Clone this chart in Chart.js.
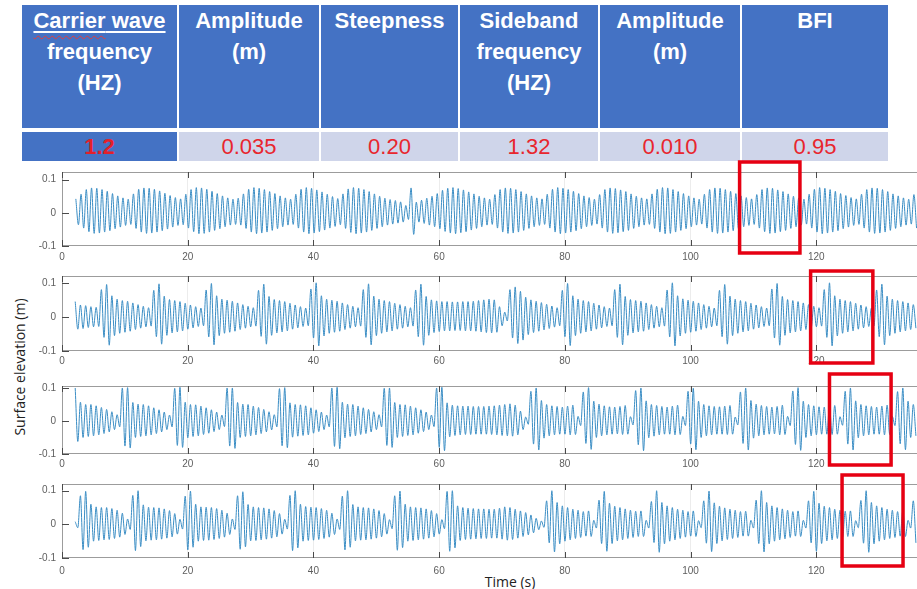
<!DOCTYPE html>
<html>
<head>
<meta charset="utf-8">
<script src="https://cdn.jsdelivr.net/npm/chart.js@4.4.0/dist/chart.umd.min.js"></script>
<style>
  html, body { margin: 0; padding: 0; width: 917px; height: 589px; overflow: hidden; background: #fff; }
  #params { position: absolute; left: 20px; top: 1px; border-collapse: separate; border-spacing: 2px 4px; table-layout: fixed; font-family: "Liberation Sans", Arial, sans-serif; }
  #params td { padding: 0; text-align: center; }
  #params .head td { background: #4472C4; color: #fff; font-weight: bold; font-size: 22px; line-height: 31px; height: 123px; vertical-align: top; }
  #params .vals td { background: #CFD5EA; color: #e8262e; font-size: 22px; height: 29px; line-height: 29px; vertical-align: middle; }
  #params .vals td.first { background: #4472C4; font-weight: bold; color: #e3202a; }
  .ul { text-decoration: underline #fff 1.5px; text-underline-offset: 3px; }
  .sq { text-decoration: underline wavy #e23c3c 1px; text-underline-offset: 7px; }
  .axis-title { position: absolute; font-family: "Open Sans", sans-serif; font-size: 14px; color: #222; white-space: nowrap; }
  canvas { position: absolute; left: 0; }
</style>
</head>
<body>
<table id="params">
  <colgroup>
    <col style="width:155px"><col style="width:140px"><col style="width:137px">
    <col style="width:138px"><col style="width:140px"><col style="width:146px">
  </colgroup>
  <tr class="head">
    <td><span class="ul"><span class="sq">Carrier</span> wave</span><br>frequency<br>(HZ)</td>
    <td>Amplitude<br>(m)</td>
    <td>Steepness</td>
    <td>Sideband<br>frequency<br>(HZ)</td>
    <td>Amplitude<br>(m)</td>
    <td>BFI</td>
  </tr>
  <tr class="vals">
    <td class="first">1.2</td>
    <td>0.035</td>
    <td>0.20</td>
    <td>1.32</td>
    <td>0.010</td>
    <td>0.95</td>
  </tr>
</table>
<div class="axis-title" style="left:19px; top:367px; transform: translate(-50%, -50%) rotate(-90deg);">Surface elevation (m)</div>
<div class="axis-title" style="left:510px; top:581px; transform: translate(-50%, -50%);">Time (s)</div>

<script>
// carrier wave frequency from the table, one crest + one trough per carrier period
const carrierFreq = 1.2;
const wavePeriod = 1 / carrierFreq;

// time of the first crest in each panel (s)
const startTimes = [2.2, 2.1, 2.1, 2.1];

// crest and trough elevations of each wave, in mm
const crest1 = [
  42, 56, 70, 75, 74, 70, 65, 58, 51, 45,
  41, 57, 71, 75, 74, 71, 66, 59, 52, 46,
  42, 56, 70, 76, 75, 71, 65, 58, 51, 45,
  41, 44, 57, 71, 76, 74, 70, 64, 58, 51, 45,
  41, 56, 71, 76, 74, 69, 63, 56, 49,
  43, 57, 72, 76, 74, 70, 64, 57, 50, 44, 40, 37, 33, 22, 75, 32, 38, 44, 50,
  58, 68, 74, 76, 73, 69, 63, 57, 50, 45,
  41, 55, 70, 75, 74, 70, 64, 57, 51, 45,
  42, 56, 71, 76, 74, 70, 65, 58, 51, 46,
  41, 55, 70, 75, 73, 69, 64, 57, 50, 45,
  42, 57, 71, 76, 75, 70, 64, 58, 51, 45,
  41, 56, 70, 75, 74, 70, 65, 58, 51, 46,
  42, 55, 70, 75, 74, 69, 64, 57, 50, 45,
  41, 56, 71, 76, 74, 70, 65, 58, 52, 46,
  42, 56, 70, 75, 74, 70, 64, 57, 51, 45,
  41, 55
];
const trough1 = [
  -36, -46, -57, -62, -61, -58, -54, -48, -43, -38,
  -35, -47, -58, -62, -61, -58, -54, -49, -43, -38,
  -36, -46, -57, -63, -62, -58, -53, -48, -42, -37,
  -35, -37, -47, -58, -63, -61, -58, -53, -48, -42, -37,
  -35, -46, -58, -63, -61, -57, -52, -46, -41,
  -36, -47, -59, -63, -61, -58, -53, -47, -42, -37, -34, -31, -28, -20, -65, -28, -32, -37, -42,
  -48, -56, -61, -63, -60, -57, -52, -47, -42, -37,
  -35, -46, -58, -62, -61, -58, -53, -47, -42, -38,
  -35, -46, -58, -63, -61, -58, -54, -48, -42, -38,
  -34, -46, -58, -62, -60, -57, -53, -47, -42, -37,
  -35, -47, -58, -63, -62, -58, -53, -48, -42, -37,
  -34, -46, -58, -62, -61, -58, -54, -48, -42, -38,
  -35, -46, -57, -62, -61, -57, -53, -47, -42, -37,
  -34, -46, -58, -63, -61, -58, -54, -48, -43, -38,
  -35, -46, -58, -62, -61, -58, -53, -47, -42, -37,
  -34, -46
];

const crest2 = [
  45, 35, 33, 30, 28,
  80, 95, 62, 52, 48, 46, 41, 36, 31, 27,
  78, 97, 61, 51, 48, 45, 40, 35, 30, 26,
  79, 98, 62, 52, 49, 46, 41, 36, 31, 27,
  78, 96, 60, 51, 48, 45, 40, 35, 30, 26,
  82, 100, 62, 52, 49, 46, 41, 36, 31, 27,
  80, 97, 61, 52, 48, 45, 40, 36, 31, 27,
  79, 96, 60, 50, 47, 45, 45, 44, 44, 45, 45, 46, 48, 50, 52, 50, 30, 14,
  80, 88, 75, 58, 50, 46, 42, 37, 32, 27,
  78, 98, 62, 52, 48, 45, 40, 35, 30, 26,
  80, 96, 60, 51, 48, 46, 41, 36, 31, 27,
  79, 100, 62, 53, 49, 46, 41, 36, 31, 26,
  78, 95, 61, 52, 48, 45, 40, 35, 30, 26,
  82, 98, 60, 51, 48, 45, 41, 36, 31, 27,
  80, 100, 62, 52, 48, 45, 40, 35, 30, 26,
  79, 96, 61, 52, 48, 45, 41, 36
];
const trough2 = [
  -36, -34, -31, -29, -28,
  -60, -83, -55, -48, -45, -42, -37, -33, -29, -27,
  -58, -80, -54, -47, -44, -41, -36, -32, -28, -26,
  -59, -82, -55, -48, -45, -42, -37, -33, -29, -27,
  -57, -80, -54, -47, -44, -41, -36, -32, -28, -26,
  -62, -85, -56, -48, -45, -42, -37, -33, -29, -27,
  -60, -82, -55, -48, -44, -41, -36, -33, -29, -27,
  -58, -83, -54, -46, -43, -41, -41, -40, -40, -41, -41, -42, -44, -46, -47, -45, -26, -12,
  -62, -78, -68, -52, -46, -42, -38, -34, -30, -26,
  -58, -84, -55, -48, -44, -41, -36, -32, -28, -26,
  -60, -82, -54, -47, -44, -42, -37, -33, -29, -27,
  -59, -85, -56, -48, -45, -42, -37, -33, -29, -26,
  -58, -80, -55, -48, -44, -41, -36, -32, -28, -26,
  -62, -83, -54, -47, -44, -41, -37, -33, -29, -27,
  -60, -85, -56, -48, -44, -41, -36, -32, -28, -26,
  -58, -82, -55, -48, -44, -41, -37, -33
];

const crest3 = [
  100, 57, 50, 50, 46, 41, 35, 28, 19,
  100, 101, 56, 51, 50, 46, 40, 34, 27, 18,
  99, 102, 57, 50, 49, 45, 40, 34, 27, 18,
  100, 100, 56, 51, 50, 45, 41, 35, 28, 19,
  98, 101, 55, 50, 49, 46, 40, 34, 27, 18,
  100, 102, 57, 51, 50, 45, 40, 35, 28, 19,
  99, 100, 56, 50, 49, 45, 40, 34, 27, 18,
  100, 102, 55, 48, 46, 45, 45, 44, 44, 44, 45, 46, 48, 50, 52, 48, 30, 12,
  90, 100, 62, 50, 46, 44, 42, 45, 48, 14,
  88, 101, 60, 51, 46, 43, 42, 44, 47, 13,
  92, 100, 61, 50, 47, 44, 42, 45, 48, 14,
  90, 99, 60, 50, 46, 44, 43, 45, 47, 12,
  88, 100, 62, 51, 47, 44, 42, 44, 48, 14,
  91, 101, 60, 50, 46, 43, 42, 45, 47, 13,
  90, 100, 61, 50, 46, 44, 42, 45, 48, 14,
  89, 100, 60, 50
];
const trough3 = [
  -62, -50, -47, -45, -42, -38, -33, -26, -18,
  -76, -82, -50, -47, -45, -42, -38, -33, -26, -18,
  -74, -80, -51, -47, -45, -41, -37, -32, -26, -17,
  -76, -83, -50, -47, -45, -42, -38, -33, -27, -18,
  -75, -81, -49, -46, -44, -42, -37, -32, -26, -18,
  -77, -84, -51, -47, -45, -41, -38, -33, -26, -18,
  -74, -80, -50, -47, -44, -42, -37, -32, -26, -17,
  -80, -90, -48, -44, -42, -41, -41, -40, -40, -40, -41, -42, -44, -45, -46, -42, -26, -10,
  -70, -88, -52, -45, -42, -40, -40, -42, -41, -14,
  -68, -86, -50, -45, -42, -40, -39, -41, -40, -12,
  -72, -90, -51, -46, -42, -40, -40, -42, -41, -14,
  -70, -87, -50, -45, -42, -40, -40, -41, -40, -12,
  -68, -88, -52, -45, -42, -40, -39, -42, -41, -14,
  -71, -89, -50, -45, -42, -40, -40, -41, -40, -13,
  -70, -88, -51, -45, -42, -40, -40, -42, -41, -14,
  -69, -87, -50, -45
];

const crest4 = [
  8,
  85, 98, 60, 52, 50, 50, 47, 42, 33, 16,
  86, 100, 58, 51, 50, 49, 46, 41, 32, 15,
  84, 99, 60, 52, 51, 50, 47, 42, 33, 16,
  85, 97, 59, 52, 50, 49, 46, 41, 32, 15,
  86, 100, 60, 53, 51, 50, 47, 42, 33, 16,
  84, 100, 59, 52, 50, 49, 46, 41, 32, 14,
  85, 99, 60, 52, 50, 49, 46, 41, 32, 14,
  98, 100, 55, 50, 48, 47, 46, 46, 45, 45, 48, 52, 50, 45, 40, 35, 28, 18, 10,
  70, 100, 65, 55, 50, 45, 42, 38, 40, 12,
  72, 98, 63, 54, 50, 46, 42, 39, 40, 12,
  68, 100, 65, 55, 50, 45, 42, 38, 40, 11,
  70, 99, 64, 54, 49, 45, 42, 38, 39, 12,
  72, 100, 65, 55, 50, 46, 42, 38, 40, 12,
  70, 98, 63, 54, 50, 45, 42, 39, 40, 11,
  71, 100, 65, 55, 50, 45, 42, 38, 40, 12,
  70
];
const trough4 = [
  -10,
  -75, -68, -50, -48, -46, -45, -42, -38, -30, -15,
  -78, -66, -49, -47, -46, -44, -41, -37, -29, -14,
  -76, -68, -50, -48, -47, -45, -42, -38, -30, -15,
  -74, -67, -49, -48, -46, -44, -41, -37, -29, -14,
  -78, -70, -50, -48, -47, -45, -42, -38, -30, -15,
  -76, -68, -49, -47, -46, -44, -41, -37, -29, -13,
  -77, -69, -50, -48, -46, -44, -41, -37, -29, -13,
  -80, -70, -48, -45, -44, -43, -42, -42, -41, -41, -44, -47, -45, -41, -36, -31, -25, -16, -9,
  -55, -82, -58, -50, -46, -42, -39, -35, -36, -11,
  -57, -80, -57, -49, -46, -42, -39, -36, -36, -11,
  -54, -83, -58, -50, -46, -42, -38, -35, -36, -10,
  -56, -81, -57, -49, -45, -42, -39, -35, -35, -11,
  -57, -82, -58, -50, -46, -43, -39, -35, -36, -11,
  -55, -80, -57, -49, -46, -42, -39, -36, -36, -10,
  -56, -83, -58, -50, -46, -42, -39, -35, -36, -11,
  -55
];

const crests = [crest1, crest2, crest3, crest4];
const troughs = [trough1, trough2, trough3, trough4];

// highlighted time windows (s), one per panel
const boxStart = [107.8, 119.1, 122.1, 124.1];
const boxEnd = [117.4, 129.0, 131.9, 133.8];

// axes
const xTickValues = [0, 20, 40, 60, 80, 100, 120, 140];
const yTickValues = [-0.1, 0, 0.1];
const yTickLabels = ["-0.1", "0", "0.1"];
const yMaxValues = [0.123, 0.12, 0.106, 0.12];

// page geometry of each panel (pixels)
const panelGeom = [
  { plotTop: 172, plotBottom: 246, labelPad: 5, boxTop: -10, boxBottom: 7 },
  { plotTop: 276, plotBottom: 351, labelPad: 4, boxTop: -5, boxBottom: 12 },
  { plotTop: 386, plotBottom: 454, labelPad: 4, boxTop: -12, boxBottom: 11 },
  { plotTop: 484, plotBottom: 558, labelPad: 7, boxTop: -9, boxBottom: 8 },
];
const padTop = 16;
const xAxisH = 24;
const canvasW = 960;

const tickFont = { family: "Liberation Sans, Arial, sans-serif", size: 10 };
const tickColor = "#5e5e5e";

const framePlugin = {
  id: "frame",
  afterDraw(chart, args, opts) {
    const { ctx, chartArea: a, scales } = chart;
    ctx.save();
    ctx.lineWidth = 1;
    ctx.strokeStyle = "#9c9c9c";
    ctx.strokeRect(a.left + 0.5, a.top + 0.5, a.right - a.left - 1, a.bottom - a.top - 1);
    ctx.strokeStyle = "#4a4a4a";
    ctx.beginPath();
    xTickValues.forEach((v) => {
      const px = Math.round(scales.x.getPixelForValue(v)) + 0.5;
      ctx.moveTo(px, a.top);
      ctx.lineTo(px, a.top + 6);
      ctx.moveTo(px, a.bottom);
      ctx.lineTo(px, a.bottom - 6);
    });
    yTickValues.forEach((v) => {
      const py = Math.round(scales.y.getPixelForValue(v)) + 0.5;
      ctx.moveTo(a.left, py);
      ctx.lineTo(a.left + 7, py);
    });
    ctx.stroke();

    // red highlight box
    const x1 = scales.x.getPixelForValue(opts.start);
    const x2 = scales.x.getPixelForValue(opts.end);
    ctx.strokeStyle = "#e60012";
    ctx.lineWidth = 3.5;
    ctx.strokeRect(x1, a.top + opts.top, x2 - x1, a.bottom - a.top + opts.bottom - opts.top);
    ctx.restore();
  },
};

function createPanel(k) {
  const g = panelGeom[k];
  const canvasTop = g.plotTop - padTop;
  const h = g.plotBottom - canvasTop + xAxisH;
  const canvas = document.createElement("canvas");
  canvas.width = canvasW;
  canvas.height = h;
  canvas.style.top = canvasTop + "px";
  canvas.style.width = canvasW + "px";
  canvas.style.height = h + "px";
  document.body.appendChild(canvas);

  let points = [];
  crests[k].forEach((c, i) => {
    points.push({ x: startTimes[k] + i * wavePeriod, y: c / 1000 });
    points.push({ x: startTimes[k] + (i + 0.5) * wavePeriod, y: troughs[k][i] / 1000 });
  });

  new Chart(canvas, {
    type: "line",
    data: {
      datasets: [
        {
          data: points,
          borderColor: "#3a8dc4",
          borderWidth: 1,
          pointRadius: 0,
          cubicInterpolationMode: "monotone",
        },
      ],
    },
    options: {
      responsive: false,
      animation: false,
      events: [],
      layout: { padding: { top: padTop, right: canvasW - 942, left: 0, bottom: 0 } },
      plugins: {
        legend: { display: false },
        tooltip: { enabled: false },
        frame: { start: boxStart[k], end: boxEnd[k], top: g.boxTop, bottom: g.boxBottom },
      },
      scales: {
        x: {
          type: "linear",
          min: 0,
          max: 140,
          afterBuildTicks: (s) => { s.ticks = xTickValues.map((v) => ({ value: v })); },
          afterFit: (s) => { s.height = xAxisH; },
          ticks: { color: tickColor, font: tickFont, padding: g.labelPad, maxRotation: 0, autoSkip: false },
          grid: { color: "#ececec", drawTicks: false },
          border: { display: false },
        },
        y: {
          min: -0.1,
          max: yMaxValues[k],
          afterBuildTicks: (s) => { s.ticks = yTickValues.map((v) => ({ value: v })); },
          afterFit: (s) => { s.width = 62; },
          ticks: {
            color: tickColor,
            font: tickFont,
            padding: 6,
            callback: (v, i) => yTickLabels[i],
          },
          grid: { display: false, drawTicks: false },
          border: { display: false },
        },
      },
    },
    plugins: [framePlugin],
  });
}

[0, 1, 2, 3].forEach(createPanel);
</script>
</body>
</html>
